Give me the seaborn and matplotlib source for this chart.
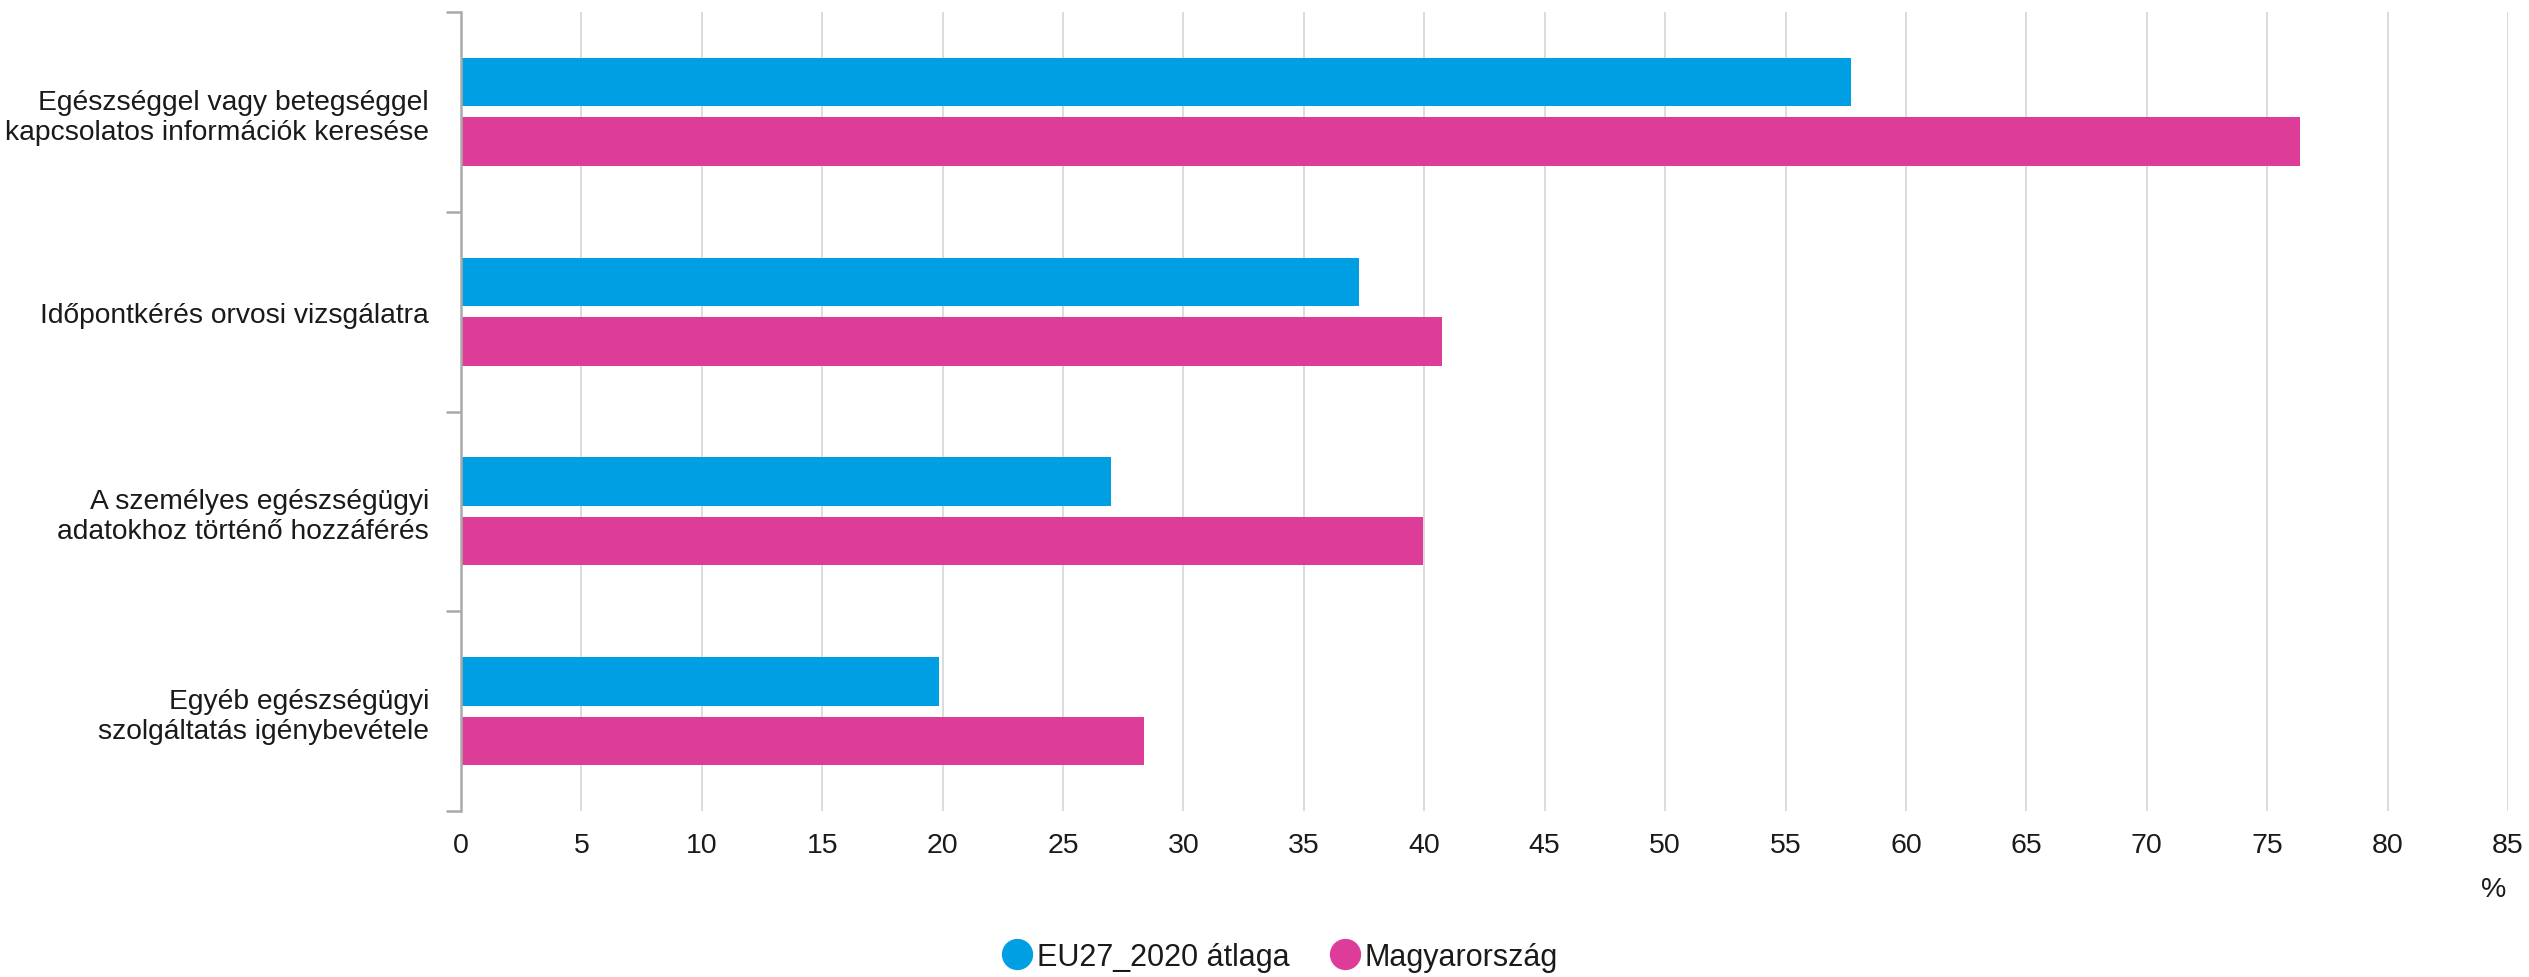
import numpy as np
import pandas as pd
import matplotlib
matplotlib.use("Agg")
import matplotlib.pyplot as plt
from matplotlib.lines import Line2D
from matplotlib.ticker import FixedLocator
import seaborn as sns

# -------------------------------
# Data
# -------------------------------
categories = [
    "Egészséggel vagy betegséggel\nkapcsolatos információk keresése",
    "Időpontkérés orvosi vizsgálatra",
    "A személyes egészségügyi\nadatokhoz történő hozzáférés",
    "Egyéb egészségügyi\nszolgáltatás igénybevétele",
]
series_names = ["EU27_2020 átlaga", "Magyarország"]
eu_values = [57.7, 37.3, 27.0, 19.85]
hu_values = [76.35, 40.75, 39.95, 28.35]
x_ticks = list(range(0, 90, 5))

colors = ["#009fe3", "#dd3d99"]

df = pd.DataFrame({
    "kategoria": categories * 2,
    "sorozat": [series_names[0]] * 4 + [series_names[1]] * 4,
    "ertek": eu_values + hu_values,
})

# -------------------------------
# Style
# -------------------------------
sns.set_style("white")
plt.rcParams["font.family"] = ["Liberation Sans", "DejaVu Sans"]
text_color = "#1a1a1a"

fig = plt.figure(figsize=(25.29, 9.78), dpi=100)
ax = fig.add_axes([0.1823, 0.1697, 0.9917 - 0.1823, 0.9867 - 0.1697])

sns.barplot(
    data=df, y="kategoria", x="ertek", hue="sorozat",
    palette=colors, order=categories, hue_order=series_names,
    width=0.595, gap=0.185, linewidth=0, saturation=1,
    orient="h", ax=ax, legend=False,
)

ax.set_xlim(0, 85)
ax.set_ylim(3.5, -0.5)
ax.set_xticks(x_ticks)
ax.set_xticklabels([str(t) for t in x_ticks])
ax.set_xlabel("")
ax.set_ylabel("")

# gridlines
ax.grid(axis="x", color="#dcdcdc", linewidth=1.4)
ax.grid(axis="y", visible=False)
ax.set_axisbelow(True)

for s in ["top", "right", "bottom"]:
    ax.spines[s].set_visible(False)
ax.spines["left"].set_color("#aaaaaa")
ax.spines["left"].set_linewidth(1.8)

ax.tick_params(axis="x", length=0, pad=15, labelsize=20.5, labelcolor=text_color)
ax.tick_params(axis="y", which="major", left=False, length=0, pad=23,
               labelsize=20.3, labelcolor=text_color)
ax.yaxis.set_minor_locator(FixedLocator([-0.5, 0.5, 1.5, 2.5, 3.5]))
ax.tick_params(axis="y", which="minor", left=True, length=11, width=1.8,
               color="#aaaaaa")
for lbl in ax.get_yticklabels():
    lbl.set_horizontalalignment("right")
    lbl.set_multialignment("right")
    lbl.set_linespacing(1.2)

fig.text(0.991, 1 - 890 / 978, "%", ha="right", va="center",
         fontsize=20.5, color=text_color)

# -------------------------------
# Legend
# -------------------------------
handles = [
    Line2D([], [], marker="o", linestyle="", markersize=21.5,
           markerfacecolor=c, markeredgecolor=c)
    for c in colors
]
fig.legend(handles, series_names, loc="center", ncol=2,
           bbox_to_anchor=(0.506, 1 - 958 / 978), frameon=False,
           fontsize=22, labelcolor=text_color, handlelength=1.0,
           handletextpad=0.15, columnspacing=1.3)

fig.savefig("out.png", dpi=100)
